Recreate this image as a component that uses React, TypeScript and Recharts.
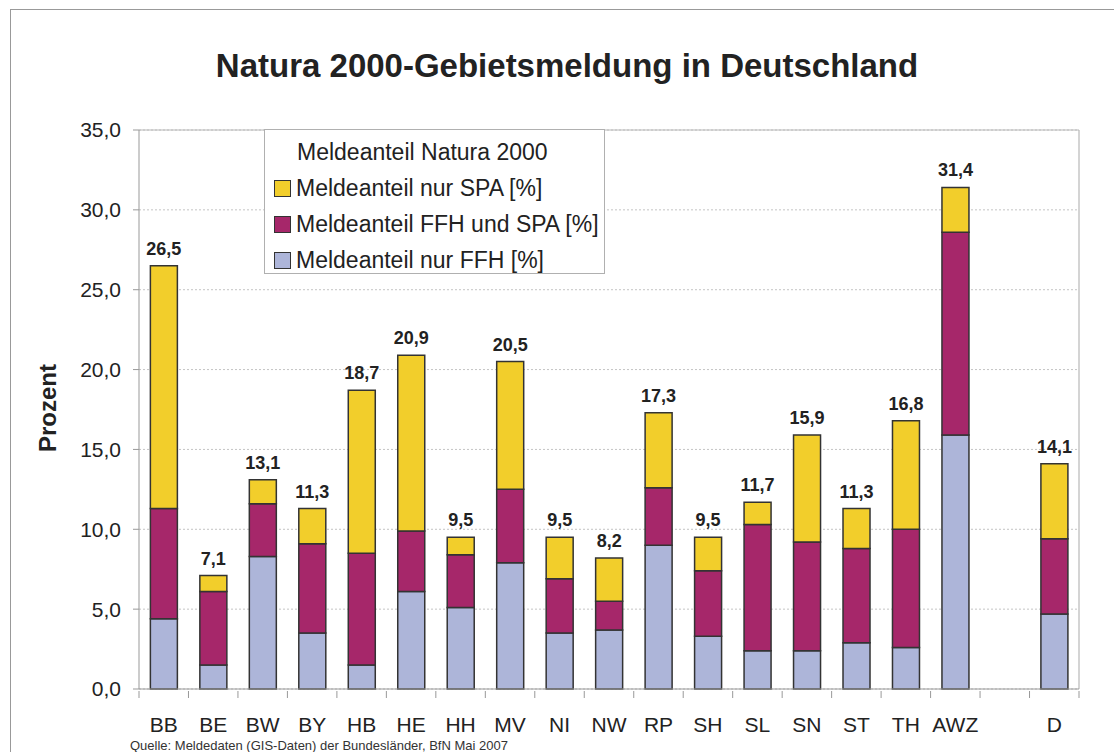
import React from 'react';
import { BarChart, Bar, XAxis, YAxis, CartesianGrid, LabelList, Legend } from 'recharts';

// ---- data ----
const categories = ['BB', 'BE', 'BW', 'BY', 'HB', 'HE', 'HH', 'MV', 'NI', 'NW', 'RP', 'SH', 'SL', 'SN', 'ST', 'TH', 'AWZ', ' ', 'D'];
const nurFFH = [4.4, 1.5, 8.3, 3.5, 1.5, 6.1, 5.1, 7.9, 3.5, 3.7, 9.0, 3.3, 2.4, 2.4, 2.9, 2.6, 15.9, null, 4.7];
const ffhUndSPA = [6.9, 4.6, 3.3, 5.6, 7.0, 3.8, 3.3, 4.6, 3.4, 1.8, 3.6, 4.1, 7.9, 6.8, 5.9, 7.4, 12.7, null, 4.7];
const nurSPA = [15.2, 1.0, 1.5, 2.2, 10.2, 11.0, 1.1, 8.0, 2.6, 2.7, 4.7, 2.1, 1.4, 6.7, 2.5, 6.8, 2.8, null, 4.7];
const totals = [26.5, 7.1, 13.1, 11.3, 18.7, 20.9, 9.5, 20.5, 9.5, 8.2, 17.3, 9.5, 11.7, 15.9, 11.3, 16.8, 31.4, null, 14.1];
const yTicks = [0, 5, 10, 15, 20, 25, 30, 35];

const seriesNames = {
  ffh: 'Meldeanteil nur FFH [%]',
  both: 'Meldeanteil FFH und SPA [%]',
  spa: 'Meldeanteil nur SPA [%]',
};
const legendOrder = [seriesNames.spa, seriesNames.both, seriesNames.ffh];

const data = categories.map((c, i) => ({
  cat: c,
  ffh: nurFFH[i],
  both: ffhUndSPA[i],
  spa: nurSPA[i],
  total: totals[i],
}));

const FONT = '"Liberation Sans", Arial, Helvetica, sans-serif';
const C_SPA = '#F2CE2B';
const C_BOTH = '#A6276A';
const C_FFH = '#ADB5D9';
const AXIS = '#999';
const PLOT = { left: 139, top: 130, width: 940, height: 559 };
const fmt = (v: any) => (v === null || v === undefined || v === '' ? '' : Number(v).toFixed(1).replace('.', ','));

// category tick: label at the band centre + short tick marks on the band boundaries
const CatTick = (props: any) => {
  const { x, y, payload, index } = props;
  const half = payload && typeof payload.offset === 'number' ? payload.offset : 0;
  const last = index === categories.length - 1;
  return (
    <g>
      <line x1={x - half} x2={x - half} y1={y} y2={y + 7} stroke={AXIS} strokeWidth={1} />
      {last && <line x1={x + half} x2={x + half} y1={y} y2={y + 7} stroke={AXIS} strokeWidth={1} />}
      <text x={x} y={y + 26} dy="0.71em" textAnchor="middle" fontSize={21} fill="#222" fontFamily={FONT}>
        {payload.value}
      </text>
    </g>
  );
};

const LegendBox = (props: any) => {
  const payload = (props.payload || [])
    .slice()
    .sort((a: any, b: any) => legendOrder.indexOf(a.value) - legendOrder.indexOf(b.value));
  return (
    <div
      style={{
        width: 341,
        height: 145,
        border: '1.5px solid #b0b0b0',
        background: '#ffffff',
        fontFamily: FONT,
        fontSize: 23,
        color: '#222',
        boxSizing: 'border-box',
        paddingTop: 4,
      }}
    >
      <div style={{ paddingLeft: 32, height: 36, lineHeight: '36px' }}>Meldeanteil Natura 2000</div>
      {payload.map((p: any) => (
        <div key={p.value} style={{ display: 'flex', alignItems: 'center', height: 36, paddingLeft: 9 }}>
          <span
            style={{
              display: 'inline-block',
              width: 15,
              height: 15,
              background: p.color,
              border: '1.5px solid #333',
              marginRight: 5,
              flex: 'none',
            }}
          />
          <span style={{ whiteSpace: 'nowrap' }}>{p.value}</span>
        </div>
      ))}
    </div>
  );
};

export default function App() {
  return (
    <div style={{ position: 'absolute', left: 0, top: 0, width: 1114, height: 752, overflow: 'hidden', background: '#fff' }}>
      <div
        style={{
          position: 'absolute',
          left: 10,
          top: 9,
          width: 1200,
          height: 800,
          borderLeft: '1.5px solid #999',
          borderTop: '1.5px solid #999',
        }}
      />
      <div style={{ position: 'absolute', left: 0, top: 0 }}>
        <BarChart
          width={1114}
          height={752}
          data={data}
          margin={{ top: 130, right: 35, left: 0, bottom: 0 }}
          barCategoryGap="23%"
        >
          <CartesianGrid
            x={PLOT.left}
            y={PLOT.top}
            width={PLOT.width}
            height={PLOT.height}
            horizontal
            vertical={false}
            stroke="#c4c4c4"
            strokeDasharray="2 2"
          />
          <CartesianGrid
            x={PLOT.left}
            y={PLOT.top}
            width={PLOT.width}
            height={PLOT.height}
            horizontal
            vertical
            stroke="#b8b8b8"
            strokeWidth={1.2}
            horizontalCoordinatesGenerator={(p: any) => [p.offset.top]}
            verticalCoordinatesGenerator={(p: any) => [p.offset.left + p.offset.width]}
          />
          <XAxis
            dataKey="cat"
            type="category"
            interval={0}
            height={63}
            tickLine={false}
            tickSize={0}
            axisLine={{ stroke: AXIS }}
            tick={<CatTick />}
          />
          <YAxis
            domain={[0, 35]}
            ticks={yTicks}
            width={139}
            tickSize={6}
            tickMargin={12}
            axisLine={{ stroke: AXIS }}
            tickLine={{ stroke: AXIS }}
            tickFormatter={fmt}
            tick={{ fontSize: 21, fill: '#222', fontFamily: FONT }}
          />
          <Legend
            layout="horizontal"
            verticalAlign="middle"
            align="center"
            content={<LegendBox />}
            wrapperStyle={{ position: 'absolute', left: 264, top: 129, width: 341, height: 145 }}
          />
          <Bar dataKey="ffh" name={seriesNames.ffh} stackId="a" fill={C_FFH} stroke="#333" strokeWidth={1.5} isAnimationActive={false} />
          <Bar dataKey="both" name={seriesNames.both} stackId="a" fill={C_BOTH} stroke="#333" strokeWidth={1.5} isAnimationActive={false} />
          <Bar dataKey="spa" name={seriesNames.spa} stackId="a" fill={C_SPA} stroke="#333" strokeWidth={1.5} isAnimationActive={false}>
            <LabelList
              dataKey="total"
              position="top"
              offset={11}
              formatter={fmt}
              style={{ fontSize: 18, fontWeight: 'bold', fill: '#222', fontFamily: FONT }}
            />
          </Bar>
        </BarChart>
      </div>
      <svg width={1114} height={752} style={{ position: 'absolute', left: 0, top: 0, pointerEvents: 'none' }}>
        <text x={567} y={77} textAnchor="middle" fontFamily={FONT} fontWeight="bold" fontSize={33} fill="#222">
          Natura 2000-Gebietsmeldung in Deutschland
        </text>
        <text
          x={56}
          y={408}
          transform="rotate(-90 56 408)"
          textAnchor="middle"
          fontFamily={FONT}
          fontWeight="bold"
          fontSize={24}
          fill="#222"
        >
          Prozent
        </text>
        <text x={130} y={750} fontFamily={FONT} fontSize={13} fill="#333">
          Quelle: Meldedaten (GIS-Daten) der Bundesländer, BfN Mai 2007
        </text>
      </svg>
    </div>
  );
}
